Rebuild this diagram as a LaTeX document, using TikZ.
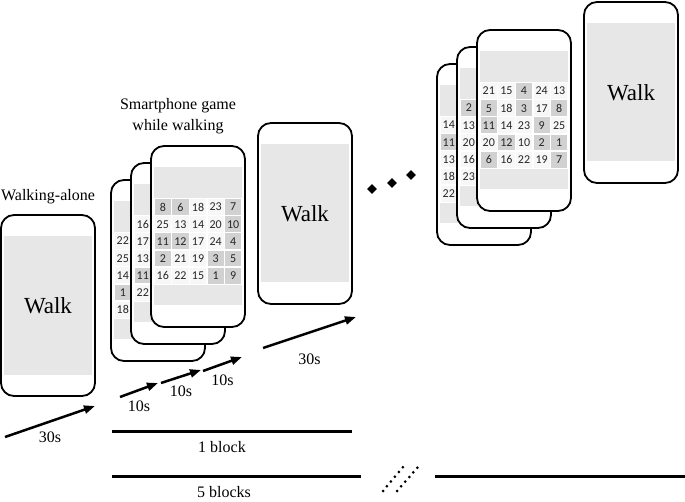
\documentclass[tikz,border=0pt]{standalone}
\usepackage{fontspec}
\setmainfont{Liberation Serif}
\newfontfamily\cellfont{Carlito}
\usetikzlibrary{arrows.meta,shapes.geometric,calc}

\tikzset{
    phone/.style={draw, line width=1.8pt, fill=white, rounded corners=13pt,
        minimum width=94pt, minimum height=181pt, inner sep=0pt},
    screen/.style={fill=gray!19, minimum width=88pt, minimum height=138pt,
        inner sep=0pt, font=\fontsize{23}{27}\selectfont},
    cell/.style={draw=white, line width=1.4pt, minimum width=17.6pt,
        minimum height=17.2pt, inner sep=0pt, text=black!85,
        font=\cellfont\fontsize{12}{14}\selectfont},
    dk/.style={cell, fill=gray!36},
    lt/.style={cell, fill=gray!6},
    lbl/.style={font=\fontsize{16}{21}\selectfont, align=center, inner sep=0pt},
    arr/.style={line width=2.5pt, -{Triangle[length=11pt,width=8pt]}},
    bar/.style={line width=3pt},
    gem/.style={diamond, fill=black, minimum size=10pt, inner sep=0pt},
    brk/.style={line width=3pt, line cap=round, dash pattern=on 0pt off 6.2pt}
}

\begin{document}
\begin{tikzpicture}[x=1pt,y=-1pt]
    \useasboundingbox (0,0) rectangle (685,502);

    \node[lbl] (alone) at (48,197) {Walking-alone};
    \node[lbl] (game) at (178,116) {Smartphone game\\while walking};

    \node[phone] (walkA) at (48,305.5) {};
    \node[screen] (scrA) at (walkA) {Walk};

    \node[phone] (gb1) at (158,270.5) {};
    \node[screen] (sgb1) at (gb1) {};
    \foreach \val/\sty [count=\k from 0] in {22/lt,25/lt,14/lt,1/dk,18/lt}
        \node[\sty] (gb1-\k) at ($(gb1)+(-35.2,\k*17.2-29.5)$) {\val};
    \node[phone] (gm1) at (178,253.5) {};
    \node[screen] (sgm1) at (gm1) {};
    \foreach \val/\sty [count=\k from 0] in {16/lt,17/lt,13/lt,11/dk,22/lt}
        \node[\sty] (gm1-\k) at ($(gm1)+(-35.2,\k*17.2-29.5)$) {\val};
    \node[phone] (gf1) at (198,236.5) {};
    \node[screen] (sgf1) at (gf1) {};
    \foreach \val/\sty [count=\k from 0] in {8/dk,6/dk,18/lt,23/lt,7/dk,
            25/lt,13/lt,14/lt,20/lt,10/dk,11/dk,12/dk,17/lt,24/lt,4/dk,
            2/dk,21/lt,19/lt,3/dk,5/dk,16/lt,22/lt,15/lt,1/dk,9/dk}{
        \pgfmathsetmacro\cx{(mod(\k,5)-2)*17.6}
        \pgfmathsetmacro\cy{int(\k/5)*17.2-29.5}
        \node[\sty] (gf1-\k) at ($(gf1)+(\cx,\cy)$) {\val};
    }

    \node[phone] (walkB) at (305,213.5) {};
    \node[screen] (scrB) at (walkB) {Walk};

    \node[gem] (dot1) at (372,189) {};
    \node[gem] (dot2) at (392,183) {};
    \node[gem] (dot3) at (411,175) {};

    \node[phone] (gb2) at (484,154.5) {};
    \node[screen] (sgb2) at (gb2) {};
    \foreach \val/\sty [count=\k from 0] in {14/lt,11/dk,13/lt,18/lt,22/lt}
        \node[\sty] (gb2-\k) at ($(gb2)+(-35.2,\k*17.2-29.5)$) {\val};
    \node[phone] (gm2) at (504,137.5) {};
    \node[screen] (sgm2) at (gm2) {};
    \foreach \val/\sty [count=\k from 0] in {2/dk,13/lt,20/lt,16/lt,23/lt}
        \node[\sty] (gm2-\k) at ($(gm2)+(-35.2,\k*17.2-29.5)$) {\val};
    \node[phone] (gf2) at (524,120.5) {};
    \node[screen] (sgf2) at (gf2) {};
    \foreach \val/\sty [count=\k from 0] in {21/lt,15/lt,4/dk,24/lt,13/lt,
            5/dk,18/lt,3/dk,17/lt,8/dk,11/dk,14/lt,23/lt,9/dk,25/lt,
            20/lt,12/dk,10/lt,2/dk,1/dk,6/dk,16/lt,22/lt,19/lt,7/dk}{
        \pgfmathsetmacro\cx{(mod(\k,5)-2)*17.6}
        \pgfmathsetmacro\cy{int(\k/5)*17.2-29.5}
        \node[\sty] (gf2-\k) at ($(gf2)+(\cx,\cy)$) {\val};
    }

    \node[phone] (walkC) at (631,92.5) {};
    \node[screen] (scrC) at (walkC) {Walk};

    \coordinate (a1s) at (5,437);
    \coordinate (a1e) at (95,406);
    \coordinate (a2s) at (120,397);
    \coordinate (a2e) at (158,383);
    \coordinate (a3s) at (161,383);
    \coordinate (a3e) at (201,370);
    \coordinate (a4s) at (203,371);
    \coordinate (a4e) at (242,357);
    \coordinate (a5s) at (263,348);
    \coordinate (a5e) at (356,317);

    \draw[arr] (a1s) to node[lbl, below=9pt] (t1) {30s} (a1e);
    \draw[arr] (a2s) to node[lbl, below=10pt] (t2) {10s} (a2e);
    \draw[arr] (a3s) to node[lbl, below=8pt] (t3) {10s} (a3e);
    \draw[arr] (a4s) to node[lbl, below=10pt] (t4) {10s} (a4e);
    \draw[arr] (a5s) to node[lbl, below=20pt] (t5) {30s} (a5e);

    \coordinate (b1s) at (112,431);
    \coordinate (b1e) at (352,431);
    \coordinate (b5s) at (112,476);
    \coordinate (b5m) at (361,476);
    \coordinate (b5n) at (435,476);
    \coordinate (b5e) at (685,476);
    \draw[bar] (b1s) -- (b1e);
    \draw[bar] (b5s) -- (b5m);
    \draw[bar] (b5n) -- (b5e);
    \node[lbl] (one) at (222,447) {1 block};
    \node[lbl] (five) at (224,492) {5 blocks};

    \coordinate (k1s) at (383,491);
    \coordinate (k1e) at (403,467);
    \coordinate (k2s) at (397,491);
    \coordinate (k2e) at (418,467);
    \draw[brk] (k1s) -- (k1e);
    \draw[brk] (k2s) -- (k2e);
\end{tikzpicture}
\end{document}
